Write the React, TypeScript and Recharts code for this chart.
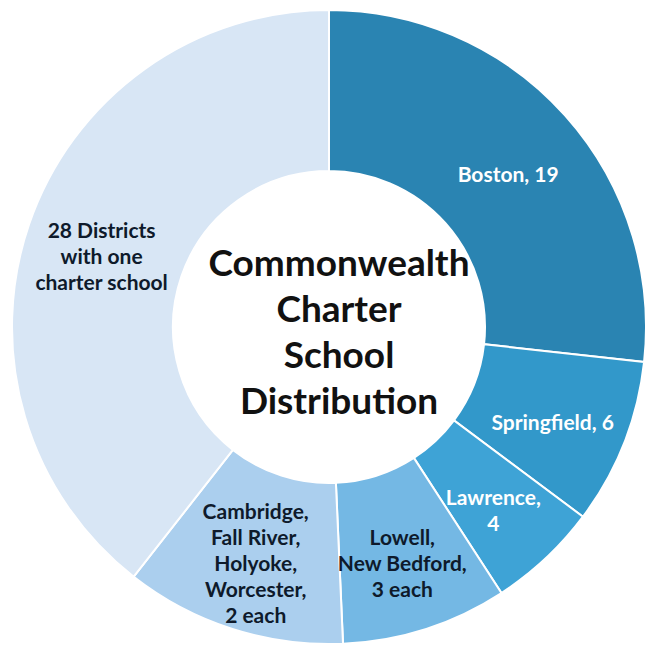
import React from "react";
import { PieChart, Pie, Cell } from "recharts";

const categories = [
  "Boston",
  "Springfield",
  "Lawrence",
  "Lowell, New Bedford",
  "Cambridge, Fall River, Holyoke, Worcester",
  "28 Districts with one charter school",
];
const values = [19, 6, 4, 6, 8, 28];
const labelLines = [
  ["Boston, 19"],
  ["Springfield, 6"],
  ["Lawrence,", "4"],
  ["Lowell,", "New Bedford,", "3 each"],
  ["Cambridge,", "Fall River,", "Holyoke,", "Worcester,", "2 each"],
  ["28 Districts", "with one", "charter school"],
];
const titleLines = ["Commonwealth", "Charter", "School", "Distribution"];

const colors = ["#2a84b2", "#3298ca", "#3ea3d6", "#74b8e4", "#abcfee", "#d8e6f5"];
const textColors = ["#ffffff", "#ffffff", "#ffffff", "#0e1a2b", "#0e1a2b", "#0e1a2b"];

const data = categories.map((name, i) => ({ name, value: values[i] }));

const RAD = Math.PI / 180;
const LINE_H = 26;

const renderLabel = (props: any) => {
  const { cx, cy, midAngle, innerRadius, outerRadius, index } = props;
  const r = (innerRadius + outerRadius) / 2 + 4;
  const x = cx + r * Math.cos(-midAngle * RAD);
  const y = cy + r * Math.sin(-midAngle * RAD) + 6;
  const lines = labelLines[index];
  const startY = y - ((lines.length - 1) * LINE_H) / 2;
  return (
    <text
      key={`lbl-${index}`}
      x={x}
      y={startY}
      fill={textColors[index]}
      textAnchor="middle"
      dominantBaseline="central"
      style={{ fontFamily: "Lato, 'Open Sans', sans-serif", fontWeight: 700, fontSize: 21 }}
    >
      {lines.map((ln, j) => (
        <tspan key={j} x={x} y={startY + j * LINE_H}>
          {ln}
        </tspan>
      ))}
    </text>
  );
};

export default function App() {
  return (
    <div style={{ position: "absolute", left: 0, top: 0, width: 649, height: 647, background: "#ffffff" }}>
      <PieChart width={649} height={647} margin={{ top: 0, right: 0, bottom: 0, left: 0 }}>
        <Pie
          data={data}
          dataKey="value"
          nameKey="name"
          cx={329}
          cy={327}
          innerRadius={156}
          outerRadius={317}
          startAngle={90}
          endAngle={-270}
          stroke="#ffffff"
          strokeWidth={2}
          label={renderLabel}
          labelLine={false}
          isAnimationActive={false}
        >
          {data.map((d, i) => (
            <Cell key={d.name} fill={colors[i]} />
          ))}
        </Pie>
      </PieChart>
      <div
        style={{
          position: "absolute",
          left: 189,
          top: 239,
          width: 300,
          textAlign: "center",
          fontFamily: "Lato, 'Open Sans', sans-serif",
          fontWeight: 700,
          fontSize: 37,
          lineHeight: "46px",
          color: "#111111",
          pointerEvents: "none",
        }}
      >
        {titleLines.map((t) => (
          <div key={t}>{t}</div>
        ))}
      </div>
    </div>
  );
}
